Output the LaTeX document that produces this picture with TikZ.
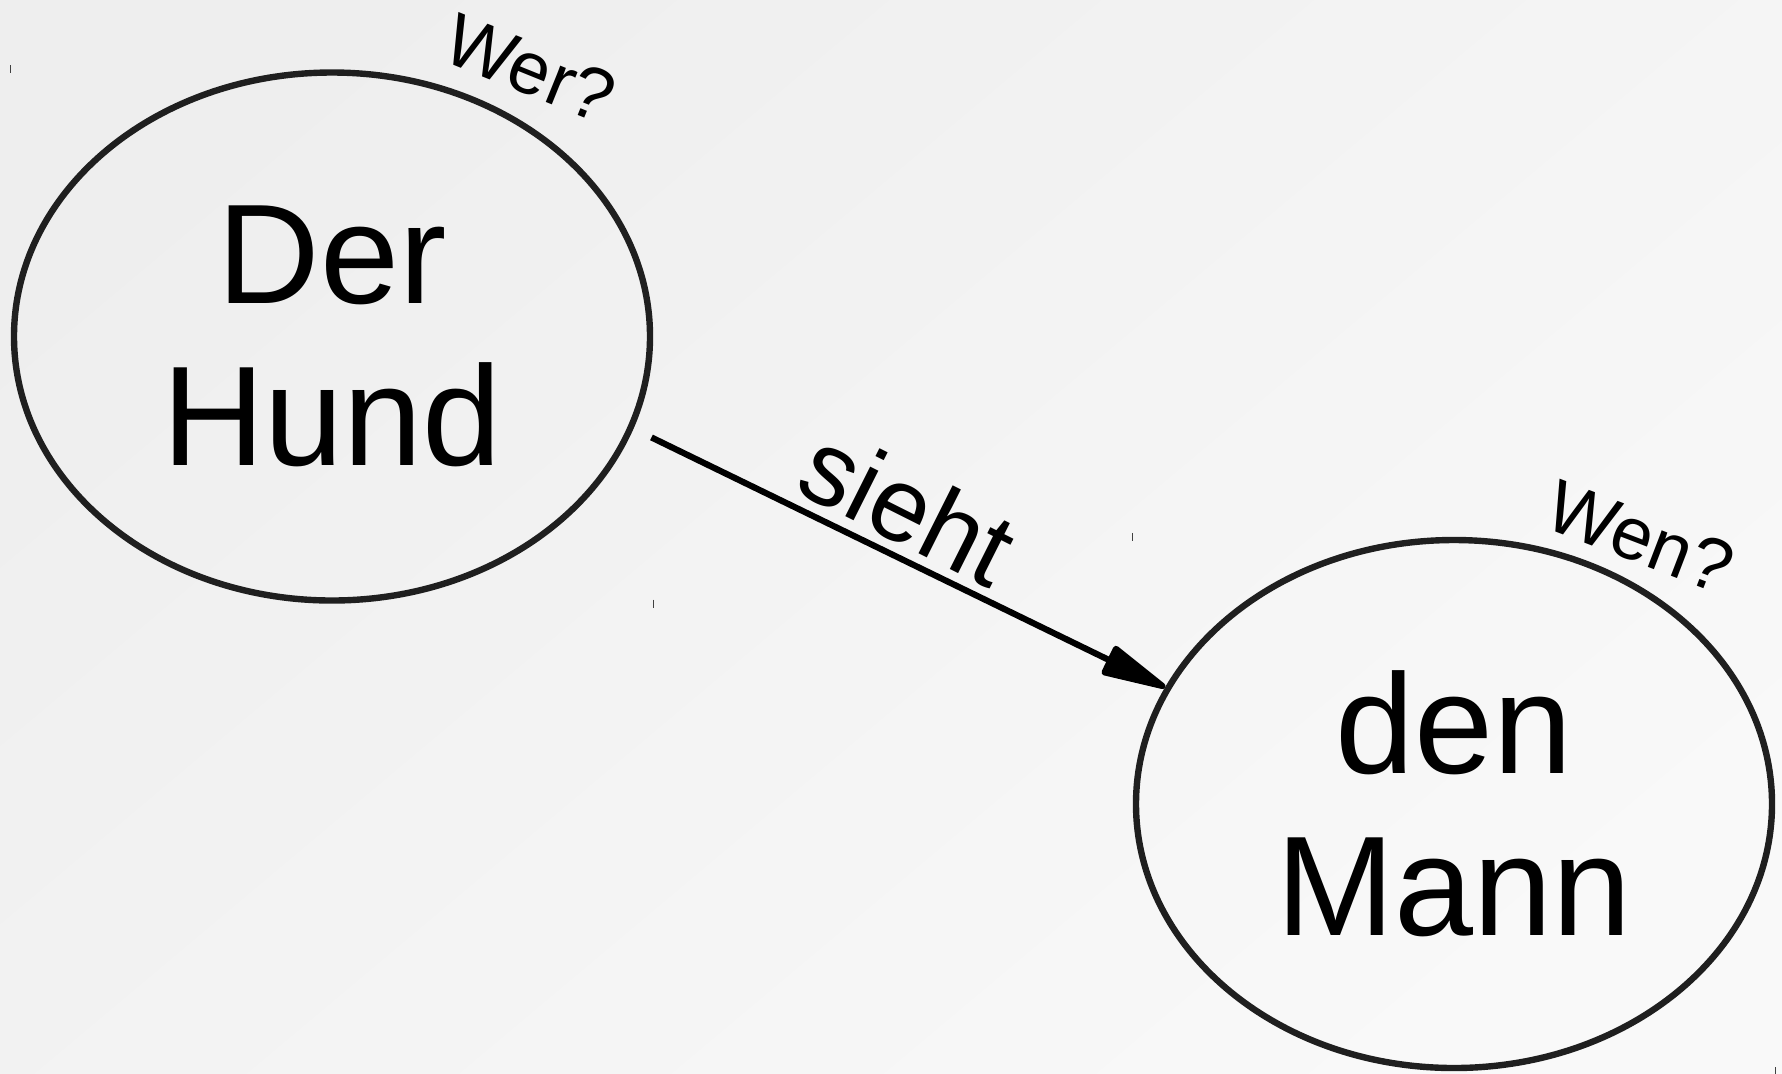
\documentclass[tikz,border=0pt]{standalone}
\usepackage{fontspec}
\setmainfont{Liberation Sans}
\usetikzlibrary{shapes.geometric,arrows.meta}
\begin{document}
\begin{tikzpicture}[x=0.5pt,y=0.5pt,
  ent/.style={ellipse, draw=black!88, line width=3.2pt, minimum width=318pt,
    minimum height=264pt, inner sep=0pt, align=center,
    font=\fontsize{71}{81}\selectfont, text=black},
  conn/.style={line width=3.1pt, draw=black,
    -{Triangle[length=38pt,width=16pt,round]}},
  qlab/.style={font=\fontsize{37}{40}\selectfont, inner sep=0pt, anchor=base west},
  vlab/.style={font=\fontsize{52.5}{56}\selectfont, inner sep=0pt, anchor=base west},
  tickmark/.style={line width=0.5pt, draw=black!75}]
\useasboundingbox (0,0) rectangle (1782,-1073);
\shade[top color=black!6.5, bottom color=black!2.5, shading angle=40] (0,0) rectangle (1782,-1073);

\node[ent] (hund) at (332,-336.5) {Der\\Hund};
\node[ent] (mann) at (1454,-804) {den\\Mann};

\draw[conn, shorten <=10pt] (hund.-17) -- (mann.158.67);

\node[qlab, rotate=-22] (wer) at (439,-59) {Wer?};
\node[qlab, rotate=-21] (wen) at (1541,-526) {Wen?};
\node[vlab, rotate=-26.65] (sieht) at (792,-490) {sieht};

\coordinate (h1) at (hund.west |- hund.north);
\coordinate (h2) at (hund.east |- hund.south);
\coordinate (m1) at (mann.west |- mann.north);
\coordinate (m2) at (mann.east |- mann.south);
\foreach \c in {h1,h2,m1,m2}
  \draw[tickmark] ([yshift=2pt]\c) -- ([yshift=-2pt]\c);
\end{tikzpicture}
\end{document}
